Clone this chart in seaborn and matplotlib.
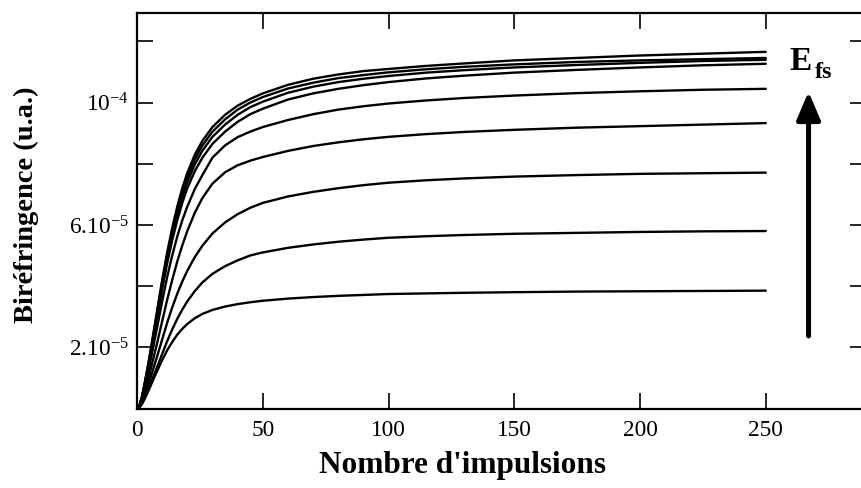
import pandas as pd
import matplotlib
matplotlib.use('Agg')
import matplotlib.pyplot as plt
import seaborn as sns

# nombre d'impulsions (abscisse)
impulsions = [0, 1, 2, 3, 4, 5, 6, 7, 8, 10, 12, 14, 16, 18, 20, 23, 26, 30, 35, 40, 45, 50,
              60, 70, 80, 90, 100, 115, 130, 150, 175, 200, 225, 250]

# biréfringence en unités de 1e-5, de la plus faible fluence à la plus forte
biref_1 = [0, 0.04, 0.15, 0.3, 0.48, 0.66, 0.85, 1.04, 1.22, 1.58, 1.9, 2.17, 2.41, 2.6, 2.76,
           2.95, 3.09, 3.22, 3.33, 3.41, 3.47, 3.52, 3.59, 3.64, 3.68, 3.71, 3.74,
           3.76, 3.78, 3.8, 3.82, 3.83, 3.84, 3.85]
biref_2 = [0, 0.04, 0.16, 0.33, 0.52, 0.72, 0.93, 1.14, 1.35, 1.78, 2.2, 2.58, 2.93, 3.23, 3.5,
           3.84, 4.12, 4.4, 4.65, 4.84, 5.0, 5.1, 5.25, 5.36, 5.45, 5.52, 5.58,
           5.63, 5.67, 5.71, 5.74, 5.77, 5.79, 5.8]
biref_3 = [0, 0.05, 0.2, 0.42, 0.66, 0.9, 1.16, 1.43, 1.7, 2.25, 2.8, 3.3, 3.75, 4.15, 4.5,
           4.95, 5.32, 5.72, 6.08, 6.35, 6.56, 6.72, 6.93, 7.08, 7.2, 7.3, 7.38,
           7.46, 7.52, 7.58, 7.63, 7.67, 7.69, 7.71]
biref_4 = [0, 0.06, 0.25, 0.52, 0.82, 1.13, 1.46, 1.8, 2.14, 2.85, 3.55, 4.2, 4.8, 5.33, 5.8,
           6.4, 6.88, 7.35, 7.72, 7.95, 8.1, 8.22, 8.42, 8.58, 8.7, 8.8, 8.88,
           8.97, 9.04, 9.11, 9.18, 9.23, 9.28, 9.33]
biref_5 = [0, 0.08, 0.32, 0.66, 1.03, 1.41, 1.82, 2.24, 2.65, 3.5, 4.3, 5.0, 5.62, 6.15, 6.6,
           7.18, 7.63, 8.2, 8.6, 8.87, 9.05, 9.2, 9.43, 9.62, 9.77, 9.88, 9.97,
           10.07, 10.15, 10.23, 10.31, 10.37, 10.42, 10.45]
biref_6 = [0, 0.1, 0.36, 0.74, 1.15, 1.57, 2.03, 2.5, 2.95, 3.9, 4.75, 5.5, 6.15, 6.72, 7.2,
           7.76, 8.2, 8.65, 9.05, 9.37, 9.62, 9.8, 10.1, 10.3, 10.45, 10.57, 10.67,
           10.79, 10.88, 10.98, 11.07, 11.15, 11.22, 11.27]
biref_7 = [0, 0.1, 0.37, 0.76, 1.19, 1.62, 2.1, 2.58, 3.05, 4.02, 4.9, 5.66, 6.33, 6.91, 7.4,
           7.98, 8.43, 8.88, 9.28, 9.6, 9.85, 10.03, 10.32, 10.52, 10.67, 10.78, 10.87,
           10.98, 11.06, 11.15, 11.23, 11.3, 11.36, 11.4]
biref_8 = [0, 0.1, 0.38, 0.78, 1.22, 1.66, 2.15, 2.64, 3.12, 4.1, 5.0, 5.78, 6.47, 7.06, 7.56,
           8.15, 8.6, 9.05, 9.45, 9.77, 10.0, 10.18, 10.46, 10.65, 10.8, 10.9, 10.99,
           11.09, 11.17, 11.25, 11.33, 11.38, 11.42, 11.46]
biref_9 = [0, 0.1, 0.4, 0.8, 1.25, 1.7, 2.2, 2.7, 3.2, 4.2, 5.1, 5.9, 6.6, 7.2, 7.7,
           8.3, 8.75, 9.2, 9.6, 9.9, 10.12, 10.3, 10.58, 10.78, 10.92, 11.03, 11.1,
           11.2, 11.28, 11.38, 11.46, 11.54, 11.6, 11.66]
courbes = [biref_1, biref_2, biref_3, biref_4, biref_5, biref_6, biref_7, biref_8, biref_9]

x_ticks = [0, 50, 100, 150, 200, 250]
y_ticks = [2, 4, 6, 8, 10, 12]
y_tick_labels = [r'$\mathregular{2.10^{-5}}$', '', r'$\mathregular{6.10^{-5}}$', '',
                 r'$\mathregular{10^{-4}}$', '']

sns.set_style('ticks')
plt.rcParams['font.family'] = ['Liberation Serif', 'DejaVu Serif']
plt.rcParams['mathtext.fontset'] = 'custom'
plt.rcParams['mathtext.rm'] = 'Liberation Serif'
plt.rcParams['mathtext.bf'] = 'Liberation Serif:bold'
plt.rcParams['text.color'] = 'black'
plt.rcParams['axes.labelcolor'] = 'black'

# tableau long pour seaborn
df = pd.concat(
    [pd.DataFrame({'impulsions': impulsions, 'biref': c, 'courbe': i}) for i, c in enumerate(courbes)],
    ignore_index=True)

W, H = 861, 488
fig = plt.figure(figsize=(W / 100, H / 100), dpi=100)
ax = fig.add_axes([137 / W, 1 - 409 / H, (866.4 - 137) / W, (409 - 13) / H])

sns.lineplot(data=df, x='impulsions', y='biref', hue='courbe',
             palette=['black'] * len(courbes), legend=False, linewidth=1.7, ax=ax)

ax.set_xlim(0, 290)
ax.set_ylim(-0.02, 12.93)
ax.set_xticks(x_ticks)
ax.set_xticklabels([str(t) for t in x_ticks])
ax.set_yticks(y_ticks)
ax.set_yticklabels(y_tick_labels)
ax.tick_params(direction='in', length=11.5, width=1.2, top=True, right=True,
               labelsize=16.8, colors='black')
ax.tick_params(axis='x', pad=8)
ax.tick_params(axis='y', pad=6)
for s in ax.spines.values():
    s.set_linewidth(1.6)
    s.set_color('black')

ax.set_xlabel("Nombre d'impulsions", fontsize=22.5, fontweight='bold', color='black')
ax.set_ylabel('Biréfringence (u.a.)', fontsize=20.5, fontweight='bold', color='black')
ax.xaxis.set_label_coords(0.446, -0.107)
ax.yaxis.set_label_coords(-0.135, 0.515)

# flèche et E_fs
ax.annotate('', xy=(267, 10.36), xytext=(267, 2.37),
            arrowprops=dict(arrowstyle='-|>,head_width=0.36,head_length=0.85',
                            lw=3.6, color='black', mutation_scale=20,
                            shrinkA=0, shrinkB=0))
ax.text(259.4, 11.07, 'E', fontsize=24, fontweight='bold', ha='left', va='baseline', color='black')
ax.text(269.4, 10.82, 'fs', fontsize=17.5, fontweight='bold', ha='left', va='baseline', color='black')

fig.savefig('out.png', dpi=100, facecolor='white')
